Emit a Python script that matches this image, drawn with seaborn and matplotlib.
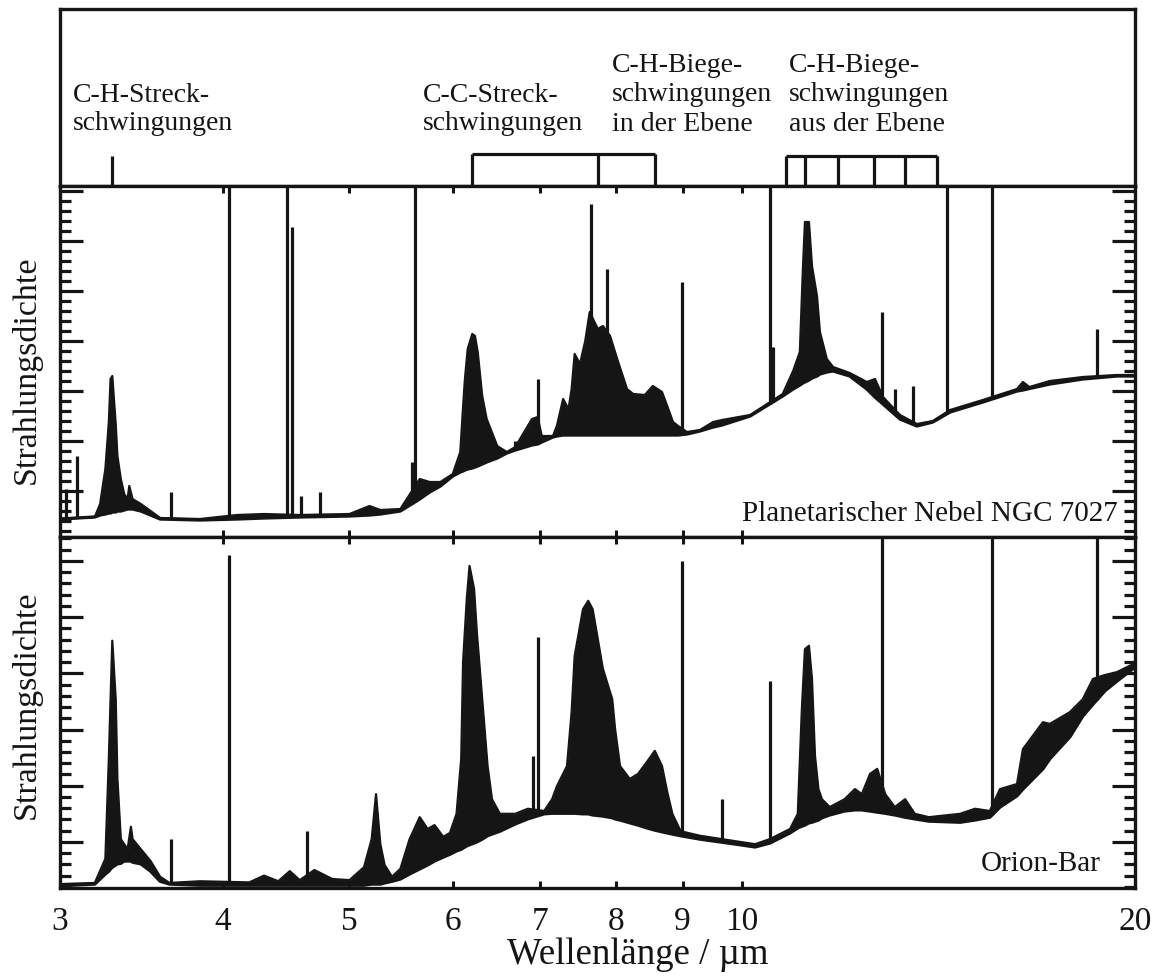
import numpy as np
import matplotlib
matplotlib.use("Agg")
import matplotlib.pyplot as plt
from matplotlib.ticker import FixedLocator, NullLocator
import seaborn as sns

# ---------------------------------------------------------------- axis setup
x_ticks = [3, 4, 5, 6, 7, 8, 9, 10, 20]
x_tick_labels = ["3", "4", "5", "6", "7", "8", "9", "10", "20"]

# ---------------------------------------------------------------- NGC 7027
# wavelength (µm), continuum (lower envelope) and top of the emission (arb. units)
ngc_wl = [3.00, 3.19, 3.22, 3.25, 3.27, 3.28, 3.29, 3.31, 3.32, 3.34, 3.36, 3.38,
          3.39, 3.41, 3.46, 3.52, 3.58, 3.84, 4.10, 4.30, 4.58, 5.00, 5.18, 5.28,
          5.47, 5.66, 5.76, 5.87, 6.00, 6.08, 6.11, 6.13, 6.16, 6.21, 6.24, 6.27,
          6.32, 6.37, 6.49, 6.60, 6.70, 6.90, 6.97, 7.02, 7.16, 7.21, 7.29, 7.36,
          7.40, 7.44, 7.51, 7.58, 7.64, 7.75, 7.82, 7.92, 8.02, 8.16, 8.25, 8.42,
          8.54, 8.68, 8.76, 8.85, 8.93, 9.07, 9.28, 9.50, 9.65, 10.14, 10.74, 10.94,
          11.07, 11.13, 11.17, 11.25, 11.31, 11.41, 11.47, 11.61, 11.74, 12.09, 12.46,
          12.64, 12.82, 13.21, 13.61, 14.00, 14.43, 15.29, 16.24, 16.41, 16.60, 17.21,
          18.24, 19.37, 20.00]
ngc_cont = [0.36, 0.40, 0.44, 0.46, 0.48, 0.48, 0.50, 0.50, 0.52, 0.52, 0.54, 0.56,
            0.56, 0.56, 0.52, 0.44, 0.36, 0.34, 0.36, 0.38, 0.40, 0.42, 0.44, 0.46,
            0.52, 0.76, 0.90, 1.02, 1.22, 1.30, 1.32, 1.34, 1.36, 1.38, 1.40, 1.42,
            1.46, 1.50, 1.58, 1.68, 1.74, 1.84, 1.86, 1.90, 2.00, 2.02, 2.04, 2.04,
            2.04, 2.04, 2.04, 2.04, 2.04, 2.04, 2.04, 2.04, 2.04, 2.04, 2.04, 2.04,
            2.04, 2.04, 2.04, 2.04, 2.04, 2.06, 2.12, 2.20, 2.24, 2.42, 2.82, 2.96,
            3.04, 3.08, 3.10, 3.14, 3.18, 3.22, 3.26, 3.30, 3.32, 3.22, 2.96,
            2.80, 2.66, 2.36, 2.22, 2.30, 2.50, 2.70, 2.92, 2.94, 2.97, 3.06,
            3.16, 3.22, 3.22]
ngc_top = [0.36, 0.40, 0.66, 1.36, 2.30, 3.16, 3.22, 2.26, 1.62, 1.16, 0.86, 0.76,
           1.02, 0.76, 0.66, 0.52, 0.38, 0.36, 0.44, 0.46, 0.44, 0.46, 0.62, 0.54,
           0.56, 1.16, 1.10, 1.10, 1.26, 1.70, 2.60, 3.16, 3.76, 4.06, 4.02, 3.70,
           2.82, 2.36, 1.82, 1.70, 1.80, 2.36, 2.40, 2.02, 2.02, 2.22, 2.76, 2.56,
           2.96, 3.66, 3.46, 3.92, 4.50, 4.16, 4.22, 4.02, 3.56, 2.96, 2.86, 2.84,
           3.02, 2.90, 2.62, 2.30, 2.22, 2.10, 2.14, 2.30, 2.34, 2.44, 2.86, 3.32,
           3.70, 5.36, 6.30, 6.30, 5.42, 4.82, 4.10, 3.56, 3.40, 3.28, 3.10,
           3.16, 2.80, 2.44, 2.26, 2.32, 2.54, 2.74, 2.96, 3.10, 3.00, 3.12,
           3.20, 3.24, 3.24]
# narrow atomic emission lines: wavelength (µm) and peak value
ngc_line_wl = [3.03, 3.09, 3.65, 4.04, 4.48, 4.52, 4.59, 4.75, 5.58, 5.61, 6.70,
               6.97, 7.66, 7.88, 8.99, 10.50, 10.56, 12.80, 13.09, 13.51, 14.35,
               15.54, 18.70]
ngc_line_top = [0.96, 1.62, 0.90, 9.0, 9.0, 6.20, 0.82, 0.90, 1.50, 9.0, 1.92,
                3.16, 6.66, 5.36, 5.10, 9.0, 3.80, 4.50, 2.96, 3.02, 9.0,
                9.0, 4.16]

# ---------------------------------------------------------------- Orion Bar
orion_wl = [3.00, 3.19, 3.25, 3.27, 3.28, 3.29, 3.31, 3.32, 3.34, 3.36, 3.38, 3.40,
            3.41, 3.46, 3.52, 3.58, 3.64, 3.84, 4.19, 4.30, 4.41, 4.50, 4.58, 4.70,
            4.85, 5.00, 5.13,
            5.20, 5.24, 5.28, 5.32, 5.39, 5.47, 5.56, 5.66, 5.74, 5.81, 5.90, 5.97,
            6.04, 6.09, 6.11, 6.15, 6.18, 6.23, 6.26, 6.32, 6.38, 6.43, 6.52, 6.70,
            6.85, 7.05, 7.15, 7.21, 7.34, 7.40, 7.44, 7.55, 7.62, 7.68, 7.82, 7.95,
            7.99, 8.06, 8.20, 8.32, 8.45, 8.57, 8.68, 8.76, 8.84, 8.97, 9.28, 9.96,
            10.23, 10.50, 10.88, 11.03, 11.11, 11.17, 11.25, 11.31, 11.37, 11.44, 11.51,
            11.67, 11.98, 12.20, 12.35, 12.53, 12.69, 12.87, 13.09, 13.33, 13.56, 13.90,
            14.69, 15.08, 15.48, 15.76, 16.24, 16.41, 17.00, 17.21, 17.83, 18.24, 18.57,
            18.97, 19.37, 20.00]
orion_cont = [0.04, 0.07, 0.25, 0.30, 0.34, 0.37, 0.41, 0.43, 0.44, 0.48, 0.48, 0.48,
              0.46, 0.43, 0.30, 0.12, 0.07, 0.05, 0.05, 0.05, 0.05, 0.05, 0.05, 0.05,
              0.05, 0.05, 0.05,
              0.07, 0.07, 0.07, 0.09, 0.12, 0.16, 0.25, 0.34, 0.41, 0.48, 0.55, 0.60,
              0.66, 0.69, 0.71, 0.75, 0.77, 0.80, 0.82, 0.87, 0.93, 0.96, 1.01, 1.14,
              1.23, 1.32, 1.33, 1.33, 1.33, 1.33, 1.33, 1.32, 1.32, 1.30, 1.28, 1.25,
              1.23, 1.21, 1.16, 1.12, 1.07, 1.03, 1.00, 0.98, 0.96, 0.93, 0.87, 0.77,
              0.73, 0.80, 0.98, 1.07, 1.10, 1.12, 1.16, 1.17, 1.19, 1.21, 1.25,
              1.30, 1.37, 1.39, 1.39, 1.37, 1.35, 1.33, 1.30, 1.26, 1.23, 1.19,
              1.17, 1.21, 1.26, 1.44, 1.64, 1.76, 2.12, 2.30, 2.69, 3.06, 3.27,
              3.51, 3.68, 3.93]
orion_top = [0.07, 0.09, 0.52, 2.30, 3.36, 4.40, 3.36, 1.94, 0.87, 0.78, 0.69, 1.09,
             0.87, 0.69, 0.48, 0.20, 0.09, 0.12, 0.10, 0.22, 0.12, 0.30, 0.14, 0.32,
             0.16, 0.14, 0.37,
             0.87, 1.67, 0.78, 0.41, 0.20, 0.34, 0.87, 1.26, 1.05, 1.12, 0.91, 0.98,
             1.32, 2.30, 4.02, 5.14, 5.73, 5.32, 4.56, 3.36, 2.17, 1.58, 1.32, 1.32,
             1.41, 1.37, 1.58, 1.81, 2.17, 3.13, 4.13, 4.96, 5.11, 4.96, 3.90, 3.36,
             2.83, 2.17, 1.94, 2.03, 2.24, 2.44, 2.17, 1.71, 1.32, 1.01, 0.93, 0.82,
             0.78, 0.87, 1.05, 1.32, 3.19, 4.25, 4.31, 3.72, 2.35, 1.76, 1.58,
             1.44, 1.58, 1.76, 1.67, 2.03, 2.12, 1.67, 1.44, 1.58, 1.32, 1.26,
             1.32, 1.41, 1.37, 1.76, 1.85, 2.47, 2.95, 2.92, 3.13, 3.36, 3.72,
             3.79, 3.84, 4.00]
orion_line_wl = [3.65, 4.04, 4.64, 6.91, 6.97, 8.99, 9.65, 10.50, 12.80, 15.54, 18.70]
orion_line_top = [0.87, 5.93, 1.01, 2.35, 4.47, 5.82, 1.58, 3.68, 9.0, 9.0, 9.0]

# ---------------------------------------------------------------- band assignments
ch_stretch_bands = [3.29]
ip_bands = [6.21, 7.75, 8.57]          # C-C stretch (6.2, 7.7) / C-H in-plane (8.6)
oop_bands = [10.80, 11.17, 11.84, 12.62, 13.32, 14.10]

# ---------------------------------------------------------------- styling
sns.set_theme(style="ticks")
plt.rcParams["font.family"] = ["Liberation Serif", "DejaVu Serif"]
plt.rcParams["axes.linewidth"] = 2.4
INK = "#151515"
FS_ANN = 20
FS_TICK = 24
FS_LABEL = 26.5

fig = plt.figure(figsize=(11.57, 9.79), dpi=100)
left, width = 0.05186, 0.92913
ax_top = fig.add_axes([left, 0.80899, width, 0.18080])
ax_mid = fig.add_axes([left, 0.45046, width, 0.35853])
ax_bot = fig.add_axes([left, 0.09193, width, 0.35853])

for ax in (ax_top, ax_mid, ax_bot):
    ax.set_xscale("log")
    ax.set_xlim(3, 20)
    for sp in ax.spines.values():
        sp.set_color(INK)
        sp.set_linewidth(2.4)

# ---------------------------------------------------------------- band panel
ax_top.set_ylim(0, 1)
ax_top.xaxis.set_major_locator(NullLocator())
ax_top.xaxis.set_minor_locator(NullLocator())
ax_top.set_yticks([])

lw_b = 2.3
h1 = 0.17
ax_top.vlines(ch_stretch_bands, 0, h1, color=INK, lw=lw_b)
h2 = 0.181
ax_top.vlines(ip_bands, 0, h2, color=INK, lw=lw_b)
ax_top.hlines(h2, ip_bands[0], ip_bands[-1], color=INK, lw=lw_b)
h3 = 0.17
ax_top.vlines(oop_bands, 0, h3, color=INK, lw=lw_b)
ax_top.hlines(h3, oop_bands[0], oop_bands[-1], color=INK, lw=lw_b)

ann = [
    (3.07, [("C-H-Streck-", 0.480), ("schwingungen", 0.322)]),
    (5.69, [("C-C-Streck-", 0.480), ("schwingungen", 0.322)]),
    (7.95, [("C-H-Biege-", 0.650), ("schwingungen", 0.486), ("in der Ebene", 0.316)]),
    (10.86, [("C-H-Biege-", 0.650), ("schwingungen", 0.486), ("aus der Ebene", 0.316)]),
]
for x0, lines in ann:
    for s, y0 in lines:
        ax_top.text(x0, y0, s, fontsize=FS_ANN, ha="left", va="baseline", color=INK)


# ---------------------------------------------------------------- spectra
def draw_spectrum(ax, wl, cont, top, line_wl, line_top):
    wl = np.asarray(wl)
    cont = np.asarray(cont)
    top = np.asarray(top)
    ax.fill_between(wl, cont, top, color=INK, lw=0)
    sns.lineplot(x=wl, y=cont, ax=ax, color=INK, lw=2.4, estimator=None, sort=False)
    sns.lineplot(x=wl, y=top, ax=ax, color=INK, lw=1.6, estimator=None, sort=False)
    base = np.interp(np.log(line_wl), np.log(wl), cont)
    ax.vlines(line_wl, base, line_top, color=INK, lw=2.3)


draw_spectrum(ax_mid, ngc_wl, ngc_cont, ngc_top, ngc_line_wl, ngc_line_top)
draw_spectrum(ax_bot, orion_wl, orion_cont, orion_top, orion_line_wl, orion_line_top)

ax_mid.set_ylim(0, 7.02)
ax_bot.set_ylim(0, 6.245)

mid_major = [0.92 + k for k in range(7)]
mid_minor = [0.12 + 0.2 * k for k in range(35) if (k - 4) % 5 != 0]
bot_major = [0.82 + k for k in range(6)]
bot_minor = [0.02 + 0.2 * k for k in range(32) if (k - 4) % 5 != 0]

for ax, maj, mnr in ((ax_mid, mid_major, mid_minor), (ax_bot, bot_major, bot_minor)):
    ax.xaxis.set_major_locator(FixedLocator(x_ticks))
    ax.xaxis.set_minor_locator(NullLocator())
    ax.yaxis.set_major_locator(FixedLocator(maj))
    ax.yaxis.set_minor_locator(FixedLocator(mnr))
    ax.tick_params(axis="x", which="major", direction="in", length=5, width=2.2,
                   top=True, bottom=True, color=INK, pad=12.5, labelsize=FS_TICK,
                   labelcolor=INK)
    ax.tick_params(axis="y", which="major", direction="in", length=16.5, width=2.3,
                   left=True, right=True, labelleft=False, color=INK)
    ax.tick_params(axis="y", which="minor", direction="in", length=8, width=2.3,
                   left=True, right=True, color=INK)
    ax.set_ylabel("")
    ax.set_xlabel("")

ax_mid.tick_params(axis="x", labelbottom=False)
ax_bot.set_xticklabels(x_tick_labels)

fig.text(638 / 1157, 1 - 955 / 979, "Wellenlänge / µm", ha="center", va="center",
         fontsize=FS_LABEL, color=INK)
fig.text(0.0225, 0.622, "Strahlungsdichte", rotation=90, ha="center", va="center",
         fontsize=24.5, color=INK)
fig.text(0.0225, 0.280, "Strahlungsdichte", rotation=90, ha="center", va="center",
         fontsize=24.5, color=INK)

ax_mid.text(0.984, 0.048, "Planetarischer Nebel NGC 7027", transform=ax_mid.transAxes,
            ha="right", va="baseline", fontsize=21, color=INK)
ax_bot.text(0.968, 0.051, "Orion-Bar", transform=ax_bot.transAxes,
            ha="right", va="baseline", fontsize=21, color=INK)

fig.savefig("out.png", dpi=100, facecolor="white")
